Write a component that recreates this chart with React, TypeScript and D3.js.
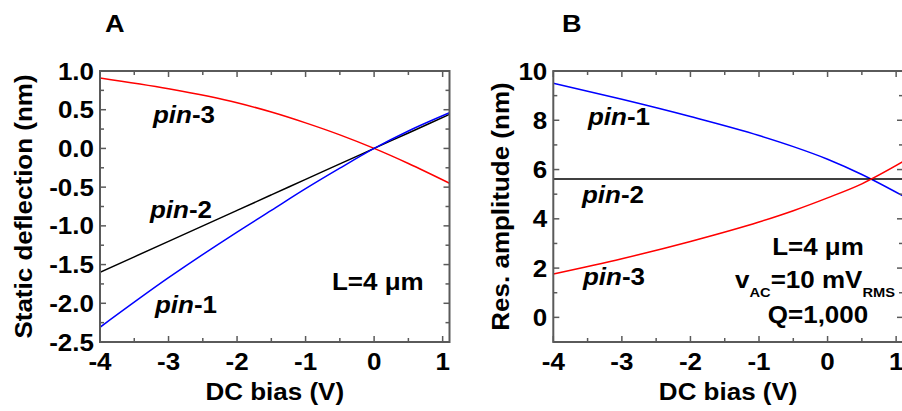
import React from "react";
import * as d3 from "d3";

const biasA = [-4, -3, -2, -1.5, -1, -0.5, 0, 0.5, 1.1];
const pin1A = [-2.31, -1.67, -1.08, -0.8, -0.52, -0.255, 0, 0.225, 0.46];
const pin2A = [-1.6, -1.2, -0.8, -0.6, -0.4, -0.2, 0, 0.2, 0.44];
const pin3A = [0.91, 0.77, 0.59, 0.47, 0.33, 0.175, 0, -0.195, -0.45];

const biasB = [-4, -3, -2, -1, -0.5, 0, 0.5, 1.1];
const pin1B = [9.5, 8.85, 8.15, 7.38, 6.93, 6.42, 5.8, 4.93];
const pin2B = [5.62, 5.62, 5.62, 5.62, 5.62, 5.62, 5.62, 5.62];
const pin3B = [1.76, 2.38, 3.08, 3.87, 4.33, 4.85, 5.42, 6.32];

const xTicks = [-4, -3, -2, -1, 0, 1];
const yTicksA = [1.0, 0.5, 0.0, -0.5, -1.0, -1.5, -2.0, -2.5];
const yTicksB = [10, 8, 6, 4, 2, 0];

const FONT = "'Liberation Sans', Arial, Helvetica, sans-serif";
const AXIS = "#5a5a5a";
const SX = 1.13;

type Series = { x: number[]; y: number[]; color: string };

function T(props: {
  x: number;
  y: number;
  size?: number;
  anchor?: "start" | "middle" | "end";
  rotate?: number;
  children: React.ReactNode;
}) {
  const r = props.rotate ? ` rotate(${props.rotate})` : "";
  return (
    <text
      transform={`translate(${props.x},${props.y})${r} scale(${SX},1)`}
      textAnchor={props.anchor || "start"}
      fontSize={props.size || 23}
      fontWeight="bold"
      fontFamily={FONT}
      fill="#000"
    >
      {props.children}
    </text>
  );
}

function Panel(props: {
  id: string;
  left: number;
  right: number;
  top: number;
  bottom: number;
  yDomain: [number, number];
  yTicks: number[];
  yMinorStep: number;
  yFmt: (v: number) => string;
  series: Series[];
  yTitle: string;
  yTitleX: number;
  letter: string;
  letterX: number;
}) {
  const { left, right, top, bottom } = props;
  const x = d3.scaleLinear().domain([-4, 1.1]).range([left, right]);
  const y = d3.scaleLinear().domain(props.yDomain).range([bottom, top]);
  const xMinor = d3.range(-4, 1.1001, 0.5);
  const yMinor = d3.range(props.yDomain[0], props.yDomain[1] + 1e-6, props.yMinorStep);
  return (
    <g>
      <defs>
        <clipPath id={"clip" + props.id}>
          <rect x={left} y={top} width={right - left} height={bottom - top} />
        </clipPath>
      </defs>
      <g clipPath={`url(#clip${props.id})`}>
        {props.series.map((s, i) => {
          const pts = s.x.map((v, j) => [x(v), y(s.y[j])] as [number, number]);
          const l = d3.line<[number, number]>().curve(d3.curveMonotoneX)(pts) || "";
          return <path key={i} d={l} fill="none" stroke={s.color} strokeWidth={1.5} />;
        })}
      </g>
      <rect x={left} y={top} width={right - left} height={bottom - top} fill="none" stroke={AXIS} strokeWidth={2} />
      {xMinor.map((v, i) => {
        const major = Math.abs(v - Math.round(v)) < 1e-6;
        const len = major ? 6 : 4;
        return (
          <g key={"xt" + i}>
            <line x1={x(v)} x2={x(v)} y1={bottom} y2={bottom - len} stroke={AXIS} strokeWidth={1.5} />
            <line x1={x(v)} x2={x(v)} y1={top} y2={top + len} stroke={AXIS} strokeWidth={1.5} />
          </g>
        );
      })}
      {yMinor.map((v, i) => {
        const major = props.yTicks.some((t) => Math.abs(t - v) < 1e-6);
        const len = major ? 6 : 4;
        return (
          <g key={"yt" + i}>
            <line x1={left} x2={left + len} y1={y(v)} y2={y(v)} stroke={AXIS} strokeWidth={1.5} />
            <line x1={right} x2={right - len} y1={y(v)} y2={y(v)} stroke={AXIS} strokeWidth={1.5} />
          </g>
        );
      })}
      {xTicks.map((v) => (
        <T key={"xl" + v} x={x(v)} y={370} anchor="middle">
          {v}
        </T>
      ))}
      {props.yTicks.map((v) => (
        <T key={"yl" + v} x={left - 6} y={y(v) + 8.5} anchor="end">
          {props.yFmt(v)}
        </T>
      ))}
      <T x={(left + right) / 2} y={400} anchor="middle">
        DC bias (V)
      </T>
      <T x={props.yTitleX} y={(top + bottom) / 2} anchor="middle" rotate={-90}>
        {props.yTitle}
      </T>
      <T x={props.letterX} y={32} size={24}>
        {props.letter}
      </T>
    </g>
  );
}

function PinLabel(props: { x: number; y: number; n: string }) {
  return (
    <T x={props.x} y={props.y}>
      <tspan fontStyle="italic">pin</tspan>
      <tspan>-{props.n}</tspan>
    </T>
  );
}

export default function App() {
  return (
    <svg width={902} height={411} style={{ position: "absolute", left: 0, top: 0, background: "#fff" }}>
      <rect x={0} y={0} width={902} height={411} fill="#fff" />
      <Panel
        id="A"
        left={100}
        right={449.5}
        top={71}
        bottom={342}
        yDomain={[-2.5, 1.0]}
        yTicks={yTicksA}
        yMinorStep={0.25}
        yFmt={(v) => v.toFixed(1)}
        series={[
          { x: biasA, y: pin3A, color: "#ff0000" },
          { x: biasA, y: pin2A, color: "#000000" },
          { x: biasA, y: pin1A, color: "#0000ff" },
        ]}
        yTitle="Static deflection (nm)"
        yTitleX={32}
        letter="A"
        letterX={105}
      />
      <Panel
        id="B"
        left={553.3}
        right={903}
        top={71}
        bottom={342}
        yDomain={[-1, 10]}
        yTicks={yTicksB}
        yMinorStep={1}
        yFmt={(v) => String(v)}
        series={[
          { x: biasB, y: pin1B, color: "#0000ff" },
          { x: biasB, y: pin2B, color: "#000000" },
          { x: biasB, y: pin3B, color: "#ff0000" },
        ]}
        yTitle="Res. amplitude (nm)"
        yTitleX={509}
        letter="B"
        letterX={562}
      />
      <PinLabel x={153} y={123} n="3" />
      <PinLabel x={150} y={218} n="2" />
      <PinLabel x={155} y={313} n="1" />
      <T x={332} y={290}>L=4 μm</T>
      <PinLabel x={588} y={125} n="1" />
      <PinLabel x={582} y={203} n="2" />
      <PinLabel x={583} y={285} n="3" />
      <T x={818} y={255} anchor="middle">L=4 μm</T>
      <T x={735} y={288}>
        v
        <tspan fontSize={13} dy={9}>AC</tspan>
        <tspan dy={-9}>=10 mV</tspan>
        <tspan fontSize={13} dy={9}>RMS</tspan>
      </T>
      <T x={818} y={323} anchor="middle">Q=1,000</T>
    </svg>
  );
}
